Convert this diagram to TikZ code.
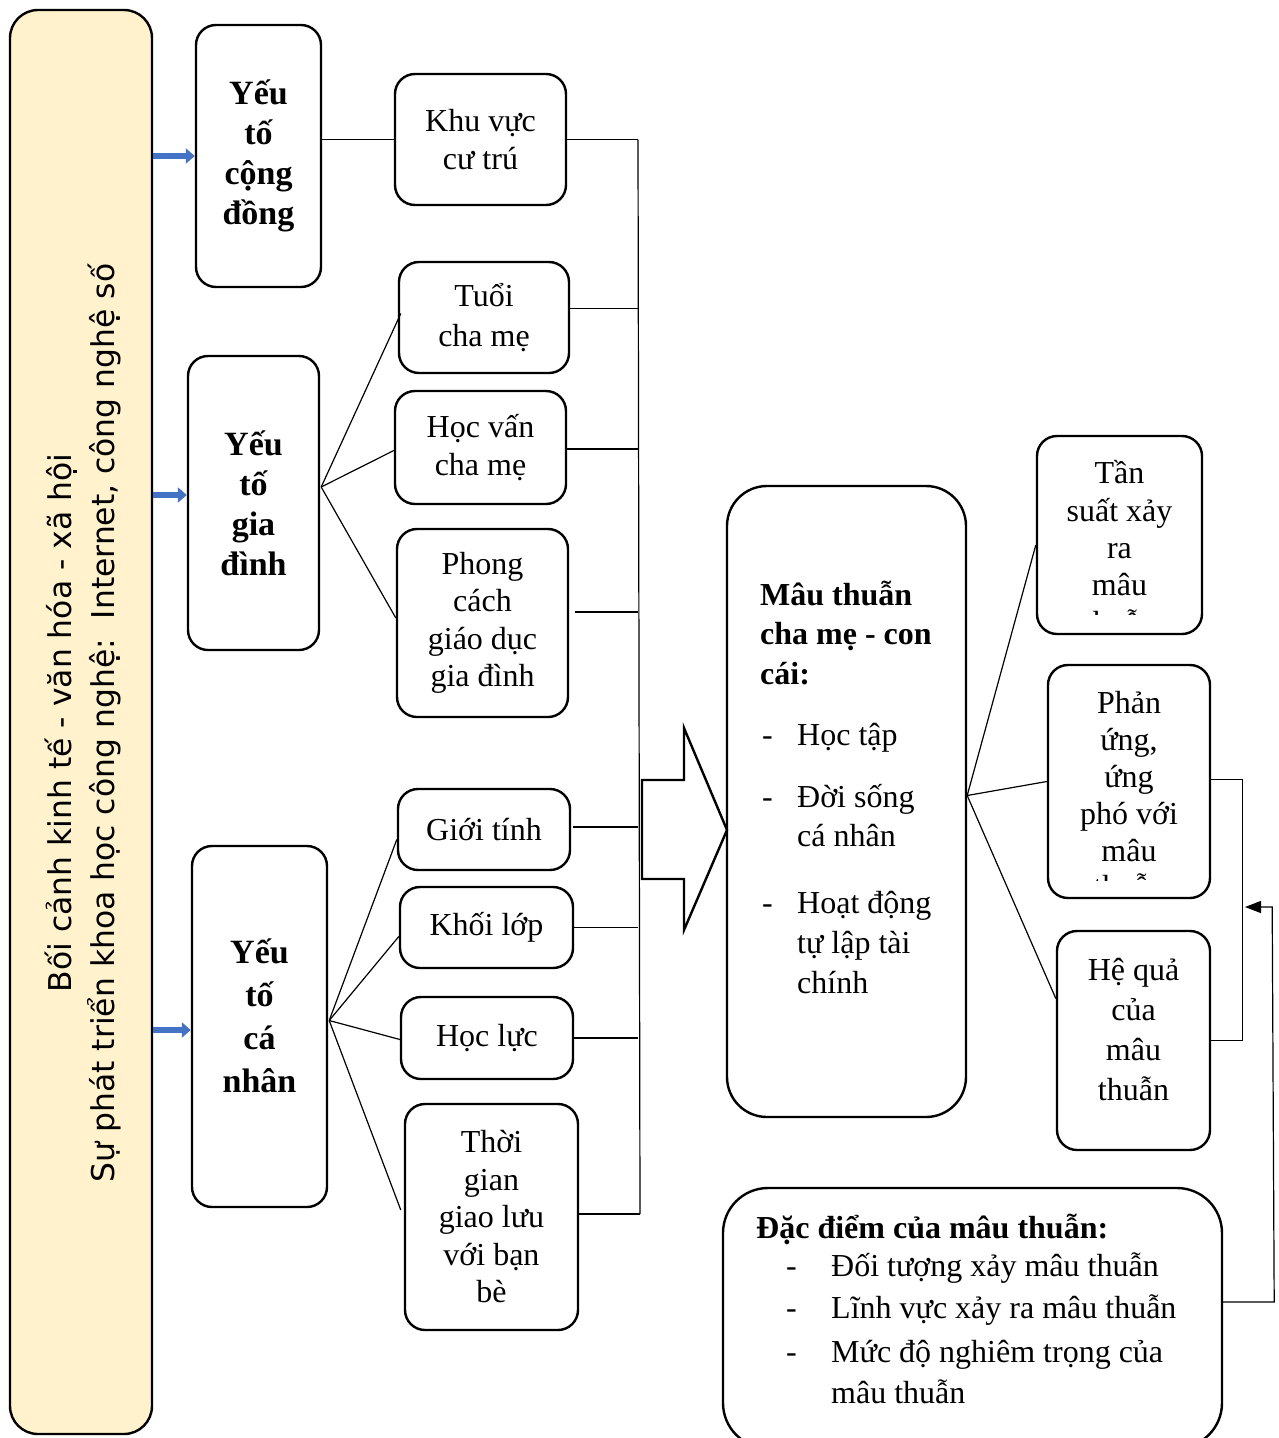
\documentclass[tikz,border=0pt]{standalone}
\usepackage{fontspec}
\setmainfont{Liberation Serif}
\newfontfamily\sansf{DejaVu Sans}
\usetikzlibrary{arrows.meta,calc}
\definecolor{leftfill}{HTML}{FFF2CC}
\definecolor{arrowblue}{HTML}{4472C4}
\begin{document}
\begin{tikzpicture}[x=1pt,y=-1pt,
  box/.style={draw=black, line width=2.4pt, rounded corners=20pt, inner sep=0pt, align=center, font=\fontsize{32}{37.5}\selectfont},
  bbox/.style={box, font=\bfseries\fontsize{34}{40}\selectfont},
  link/.style={draw=black, line width=1.2pt},
  barrow/.style={draw=arrowblue, line width=5.5pt, -{Triangle[length=9pt,width=15pt]}},
  txtl/.style={anchor=base west, inner sep=0pt, font=\fontsize{32}{37.5}\selectfont},
  txtb/.style={txtl, font=\bfseries\fontsize{32}{37.5}\selectfont},
]
\clip (0,0) rectangle (1279,1438);
\fill[white] (0,0) rectangle (1279,1438);

% left context box
\node[box, fill=leftfill, rounded corners=28pt, minimum width=142pt, minimum height=1424pt] (left) at (81,722) {};
\node[rotate=90, align=center, inner sep=0pt, font=\sansf\fontsize{31.4}{43}\selectfont] (lefttext) at (83,723)
  {Bối cảnh kinh tế - văn hóa - xã hội\\Sự phát triển khoa học công nghệ:\ \ Internet, công nghệ số};

% factor boxes
\node[bbox, minimum width=125pt, minimum height=262pt] (ycd) at (258.5,156) {Yếu\\tố\\cộng\\đồng};
\node[bbox, minimum width=131pt, minimum height=294pt] (ygd) at (253.5,503) {Yếu\\tố\\gia\\đình};
\node[bbox, minimum width=135pt, minimum height=361pt] (ycn) at (259.5,1026.5) {};
\node[inner sep=0pt, align=center, font=\bfseries\fontsize{34}{43}\selectfont] (ycntext) at (259.5,1016) {Yếu\\tố\\cá\\nhân};

% middle boxes
\node[box, minimum width=171pt, minimum height=131pt] (kvct) at (480.5,139.5) {Khu vực\\cư trú};
\node[box, font=\fontsize{32}{40}\selectfont, minimum width=170pt, minimum height=111pt] (tuoi) at (484,317.5) {Tuổi\\cha mẹ};
\node[box, minimum width=171pt, minimum height=113pt] (hocvan) at (480.5,447.5) {Học vấn\\cha mẹ};
\node[box, minimum width=171pt, minimum height=188pt] (phong) at (482.5,623) {Phong\\cách\\giáo dục\\gia đình};
\node[box, minimum width=172pt, minimum height=81pt] (gioi) at (484,829.5) {Giới tính};
\node[box, minimum width=173pt, minimum height=81pt] (khoi) at (486.5,927.5) {Khối lớp};
\node[box, minimum width=172pt, minimum height=82pt] (hocluc) at (487,1038) {Học lực};
\node[box, minimum width=173pt, minimum height=226pt] (thoigian) at (491.5,1217) {Thời\\gian\\giao lưu\\với bạn\\bè};

% blue arrows
\draw[barrow] (left.east |- ycd.west) -- (ycd.west);
\draw[barrow] ($(left.east |- ygd.west)+(0,-8)$) -- ($(ygd.west)+(0,-8)$);
\draw[barrow] ($(left.east |- ycn.west)+(0,3.5)$) -- ($(ycn.west)+(0,3.5)$);

% connectors factor -> sub
\draw[link] (ycd.east |- kvct.west) -- (kvct.west);
\coordinate (gdc) at ($(ygd.east)+(1,-16)$);
\draw[link] (gdc) -- ($(tuoi.west)+(3,-4)$);
\draw[link] (gdc) -- ($(hocvan.west)+(0,3)$);
\draw[link] (gdc) -- ($(phong.west)+(0,-5)$);
\coordinate (cnc) at ($(ycn.east)+(1,-6)$);
\draw[link] (cnc) -- ($(gioi.west)+(0,10)$);
\draw[link] (cnc) -- ($(khoi.west)+(0,9)$);
\draw[link] (cnc) -- ($(hocluc.west)+(2,2)$);
\draw[link] (cnc) -- ($(thoigian.west)+(-3,-7)$);

% bus
\coordinate (bus) at (638,0);
\draw[link] (kvct.east) -- (kvct.east -| bus);
\draw[link] ($(tuoi.east)+(0,-9)$) -- ($(tuoi.east -| bus)+(0,-9)$);
\draw[link] ($(hocvan.east)+(0,1.5)$) -- ($(hocvan.east -| bus)+(0,1.5)$);
\draw[link] ($(phong.east)+(6,-11)$) -- ($(phong.east -| bus)+(0,-11)$);
\draw[link] ($(gioi.east)+(2,-2.5)$) -- ($(gioi.east -| bus)+(0,-2.5)$);
\draw[link] (khoi.east) -- (khoi.east -| bus);
\draw[link] (hocluc.east) -- (hocluc.east -| bus);
\draw[link] ($(thoigian.east)+(0,-3)$) -- ($(thoigian.east -| bus)+(2,-3)$);
\draw[link] (kvct.east -| bus) -- ($(thoigian.east -| bus)+(2,-3)$);

% big hollow arrow
\draw[line width=2.4pt, line join=miter] (642,780) -- (684,780) -- (684,728) -- (727,830) -- (684,930) -- (684,879) -- (642,879) -- cycle;

% central box
\node[box, rounded corners=40pt, minimum width=239pt, minimum height=631pt] (mt) at (846.5,801.5) {};
\node[txtb] (mt1) at (760,605) {Mâu thuẫn};
\node[txtb] (mt2) at (760,644) {cha mẹ - con};
\node[txtb] (mt3) at (760,684) {cái:};
\node[txtl] (mtd1) at (762,745) {-};
\node[txtl] (mt4) at (797,745) {Học tập};
\node[txtl] (mtd2) at (762,807) {-};
\node[txtl] (mt5) at (797,807) {Đời sống};
\node[txtl] (mt6) at (797,846) {cá nhân};
\node[txtl] (mtd3) at (762,913) {-};
\node[txtl] (mt7) at (797,913) {Hoạt động};
\node[txtl] (mt8) at (797,953) {tự lập tài};
\node[txtl] (mt9) at (797,993) {chính};

% right boxes
\node[box, minimum width=165pt, minimum height=198pt] (tansuat) at (1119.5,535) {};
\begin{scope}
  \clip (1040,439) rectangle (1199,614);
  \node[inner sep=0pt, align=center, font=\fontsize{32}{37.3}\selectfont] (tstext) at (1119.5,547) {Tần\\suất xảy\\ra\\mâu\\thuẫn};
\end{scope}
\node[box, minimum width=162pt, minimum height=233pt] (phanung) at (1129,781.5) {};
\begin{scope}
  \clip (1051,668) rectangle (1207,880);
  \node[inner sep=0pt, align=center, font=\fontsize{32}{36.8}\selectfont] (putext) at (1129,795) {Phản\\ứng,\\ứng\\phó với\\mâu\\thuẫn};
\end{scope}
\node[box, font=\fontsize{32}{40}\selectfont, minimum width=153pt, minimum height=219pt] (hequa) at (1133.5,1040.5) {};
\node[inner sep=0pt, align=center, font=\fontsize{32}{40}\selectfont] (hqtext) at (1133.5,1030) {Hệ quả\\của\\mâu\\thuẫn};

\coordinate (mtc) at ($(mt.east)+(0,-6)$);
\draw[link] (mtc) -- ($(tansuat.west)+(0,10)$);
\draw[link] (mtc) -- (phanung.west);
\draw[link] (mtc) -- ($(hequa.west)+(0,-42)$);

\draw[link] ($(phanung.east)+(0,-2)$) -- ++(31,0) |- (hequa.east);

% characteristics box
\node[box, rounded corners=45pt, minimum width=499pt, minimum height=260pt] (dacdiem) at (972.5,1318) {};
\node[txtb] (dd0) at (756,1238) {Đặc điểm của mâu thuẫn:};
\node[txtl] (ddd1) at (786,1276) {-};
\node[txtl] (dd1) at (831,1276) {Đối tượng xảy mâu thuẫn};
\node[txtl] (ddd2) at (786,1318) {-};
\node[txtl] (dd2) at (831,1318) {Lĩnh vực xảy ra mâu thuẫn};
\node[txtl] (ddd3) at (786,1362) {-};
\node[txtl] (dd3) at (831,1362) {Mức độ nghiêm trọng của};
\node[txtl] (dd4) at (831,1403) {mâu thuẫn};

\coordinate (fbtip) at (1245,907);
\draw[link, -{Triangle[length=16pt,width=12pt]}] ($(dacdiem.east)+(0,-16)$) -- ++(51,0) -- ++(-2,-395) -- (fbtip);
\end{tikzpicture}
\end{document}
